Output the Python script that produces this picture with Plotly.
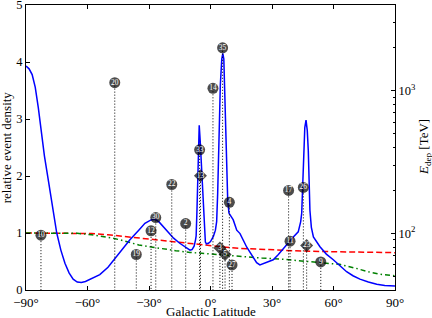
import math
import plotly.graph_objects as go

# ---- data ----
curve_lat = [-90, -88.5, -87, -85.5, -84, -82.5, -81, -79, -77, -75, -73, -71, -69, -67, -65, -63, -61, -58,
             -54, -50, -46.6, -43, -39.3, -35, -32, -29, -27, -25, -22, -18, -15, -12, -10, -9, -8.4, -8.0,
             -7.3, -7.0, -6.6, -6.3, -6.0, -5.5, -5.0, -4.6, -4.0, -3.5, -3.0, -2.5, -2.0, -1.0, 0.0, 1.4,
             2.4, 3.0, 3.5, 3.8, 4.3, 4.8, 5.5, 6.0, 6.5, 7.1, 7.6, 8.0, 8.4, 9.0, 10.0, 11.1, 12.8, 14.4,
             17.7, 19.3, 22.5, 24.1, 26.6, 30.6, 33, 35.5, 38.8, 40.4, 42.8, 44.0, 44.5, 45.0, 45.4, 46.0,
             46.6, 47.2, 47.7, 48.1, 48.5, 49.2, 50.2, 53.4, 56.5, 59.9, 63, 66.4, 69.5, 72.9, 77, 81.1, 85, 90]
curve_density = [3.93, 3.88, 3.78, 3.56, 3.2, 2.75, 2.35, 1.9, 1.45, 1.0, 0.7, 0.47, 0.3, 0.19, 0.14, 0.13, 0.15, 0.2,
                 0.27, 0.4, 0.55, 0.72, 0.88, 1.05, 1.17, 1.23, 1.24, 1.19, 1.07, 0.91, 0.82, 0.74, 0.70, 0.71, 0.74, 0.77,
                 0.88, 0.95, 1.4, 1.87, 2.4, 2.89, 2.6, 2.3, 1.9, 1.58, 1.0, 0.84, 0.81, 0.82, 0.85, 0.94,
                 1.05, 1.2, 1.7, 2.16, 3.0, 3.6, 4.05, 4.15, 4.05, 3.33, 2.63, 2.1, 1.58, 1.35, 1.3, 1.23, 1.05, 0.99,
                 0.75, 0.66, 0.48, 0.44, 0.47, 0.53, 0.62, 0.73, 0.88, 0.93, 1.02, 1.2, 1.35, 1.95, 2.45, 2.85,
                 2.98, 2.8, 2.45, 1.95, 1.4, 1.1, 0.93, 0.76, 0.63, 0.53, 0.43, 0.32, 0.25, 0.19, 0.14, 0.10, 0.08, 0.07]

red_lat = [-90, -75, -65, -58, -50, -40, -34, -29.5, -20, -10, 0, 5, 15, 25, 40, 55, 70, 90]
red_density = [1.0, 1.0, 1.0, 0.99, 0.97, 0.93, 0.91, 0.89, 0.85, 0.82, 0.78, 0.76, 0.73, 0.71, 0.69, 0.675, 0.665, 0.655]

green_lat = [-90, -75, -65, -58, -54, -48, -44, -39, -35, -30, -23, -17, -10, 0, 5, 15, 25, 35, 47, 55, 63, 71, 78, 84, 90]
green_density = [1.0, 1.0, 0.995, 0.97, 0.95, 0.91, 0.88, 0.83, 0.79, 0.76, 0.72, 0.69, 0.66, 0.63, 0.61, 0.58, 0.56,
                 0.54, 0.50, 0.48, 0.45, 0.38, 0.31, 0.27, 0.25]

event_ids = [10, 20, 19, 12, 30, 22, 2, 33, 13, 14, 35, 3, 5, 4, 27, 17, 11, 26, 23, 9]
event_lat = [-82.7, -46.7, -36.2, -29.0, -26.7, -18.9, -12.1, -5.3, -4.9, 1.2, 5.9, 4.6, 7.1, 9.2, 10.5,
             38.1, 38.8, 45.3, 46.9, 53.8]
event_energy = [97, 1141, 71, 104, 129, 220, 117, 385, 253, 1041, 2004, 79, 71, 165, 60, 200, 88, 210, 82, 63]
track_events = [13, 3, 5, 23]

x_ticks = [-90, -60, -30, 0, 30, 60, 90]
x_ticklabels = ["\u221290\u00b0", "\u221260\u00b0", "\u221230\u00b0", "0\u00b0", "30\u00b0", "60\u00b0", "90\u00b0"]
y_ticks = [0, 1, 2, 3, 4, 5]
e_range = [40, 4000]
e_major = [100, 1000]
e_major_labels = ["10<sup>2</sup>", "10<sup>3</sup>"]
e_minor = [50, 60, 70, 80, 90, 200, 300, 400, 500, 600, 700, 800, 900, 2000, 3000, 4000]

FONT = "Liberation Serif, Times New Roman, serif"

fig = go.Figure()

fig.add_trace(go.Scatter(x=red_lat, y=red_density, mode="lines",
                         line=dict(color="#ff0000", width=1.5, dash="6px,3px"), hoverinfo="skip"))
fig.add_trace(go.Scatter(x=green_lat, y=green_density, mode="lines",
                         line=dict(color="#008000", width=1.5, dash="5px,3px,1.5px,3px"), hoverinfo="skip"))
fig.add_trace(go.Scatter(x=curve_lat, y=curve_density, mode="lines",
                         line=dict(color="#0000ff", width=1.5), hoverinfo="skip"))

# dotted drop lines from each event marker to the bottom of the energy axis
drop_x, drop_y = [], []
for la, en in zip(event_lat, event_energy):
    drop_x += [la, la, None]
    drop_y += [en, e_range[0], None]
fig.add_trace(go.Scatter(x=drop_x, y=drop_y, yaxis="y2", mode="lines",
                         line=dict(color="black", width=1, dash="1px,2px"), hoverinfo="skip"))

symbols = ["diamond" if i in track_events else "circle" for i in event_ids]
sizes = [10 if i in track_events else 11 for i in event_ids]
fig.add_trace(go.Scatter(x=event_lat, y=event_energy, yaxis="y2", mode="markers+text",
                         marker=dict(color="black", symbol=symbols, size=sizes, line=dict(width=0)),
                         text=[str(i) for i in event_ids], textposition="middle center",
                         textfont=dict(color="white", size=7.5, family=FONT), hoverinfo="skip"))

L, R, T, B = 26, 37, 5, 28
fig.update_layout(
    width=432, height=318,
    margin=dict(l=L, r=R, t=T, b=B, pad=0),
    paper_bgcolor="white", plot_bgcolor="white",
    showlegend=False,
    font=dict(family=FONT, size=12, color="black"),
    xaxis=dict(range=[-90, 90], tickmode="array", tickvals=x_ticks, ticktext=x_ticklabels,
               ticks="inside", ticklen=4, tickcolor="black", showline=True, linecolor="black",
               linewidth=1, mirror="ticks", showgrid=False, zeroline=False, automargin=False,
               ticklabeloverflow="allow", tickfont=dict(size=13, family=FONT)),
    yaxis=dict(range=[0, 5], tickmode="array", tickvals=y_ticks, ticks="inside", ticklen=4,
               tickcolor="black", showline=True, linecolor="black", linewidth=1, automargin=False,
               ticklabeloverflow="allow",
               showgrid=False, zeroline=False, tickfont=dict(size=12.5, family=FONT)),
    yaxis2=dict(overlaying="y", side="right", type="log", automargin=False,
                range=[math.log10(e_range[0]), math.log10(e_range[1])],
                tickmode="array", tickvals=e_major, ticktext=e_major_labels,
                ticks="inside", ticklen=4, tickcolor="black", showline=True, linecolor="black",
                linewidth=1, showgrid=False, zeroline=False, tickfont=dict(size=12.5, family=FONT),
                ticklabeloverflow="allow",
                minor=dict(tickmode="array", tickvals=e_minor, ticks="inside", ticklen=2,
                           tickcolor="black", showgrid=False)),
    annotations=[
        dict(text="Galactic Latitude", xref="paper", yref="paper", x=0.5, y=-0.077,
             xanchor="center", yanchor="middle", showarrow=False, font=dict(size=13, family=FONT)),
        dict(text="relative event density", xref="paper", yref="paper", x=-0.052, y=0.5,
             xanchor="center", yanchor="middle", textangle=-90, showarrow=False,
             font=dict(size=13, family=FONT)),
        dict(text="<i>E</i><sub>dep</sub> [TeV]", xref="paper", yref="paper", x=1.08, y=0.5,
             xanchor="center", yanchor="middle", textangle=-90, showarrow=False,
             font=dict(size=13, family=FONT)),
    ],
)

fig.write_html("out.html", config={"displayModeBar": False},
               post_script="document.body.style.margin='0';document.body.style.overflow='hidden';")
